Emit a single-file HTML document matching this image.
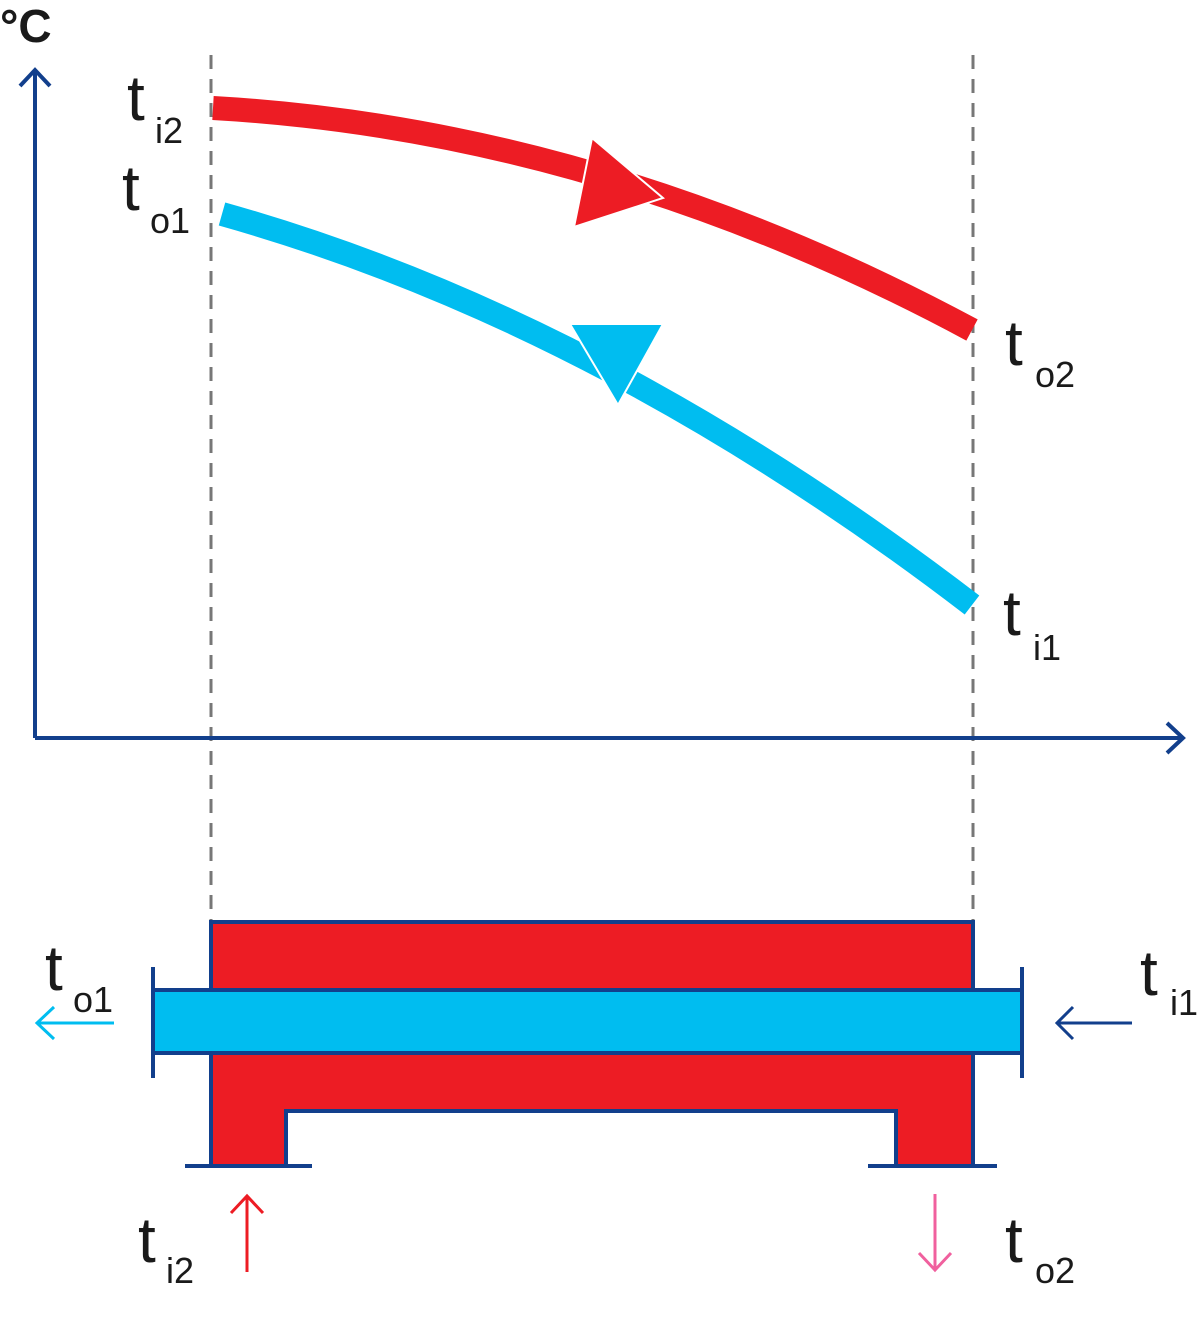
<!DOCTYPE html>
<html><head><style>body{margin:0;background:#fff}svg{display:block}text{font-family:"Liberation Sans",sans-serif;fill:#1a1a1a}</style></head>
<body>
<svg width="1200" height="1317" viewBox="0 0 1200 1317" xmlns="http://www.w3.org/2000/svg">
<g stroke="#777" stroke-width="3" stroke-dasharray="14,10">
<line x1="211" y1="55" x2="211" y2="922"/><line x1="973" y1="55" x2="973" y2="922"/></g>
<g stroke="#123f8c" stroke-width="4" fill="none">
<line x1="35" y1="70" x2="35" y2="738"/><polyline points="20,86 35,70 50,86"/>
<line x1="35" y1="738" x2="1183" y2="738"/><polyline points="1167,723 1183,738 1167,753"/></g>
<text x="0" y="42" font-size="46" font-weight="bold">°C</text>
<path d="M213,108 Q600,130 972,330" stroke="#ed1c24" stroke-width="24" fill="none"/>
<path d="M222,214 Q600,320 972,605" stroke="#00bdf0" stroke-width="24" fill="none"/>
<polygon points="592,138 574,227 663,198" fill="#ed1c24" stroke="#fff" stroke-width="2"/>
<polygon points="570,324 663,324 618,405" fill="#00bdf0" stroke="#fff" stroke-width="2"/>
<g font-size="64"><text x="127" y="120">t</text><text x="122" y="210">t</text><text x="1005" y="365">t</text><text x="1003" y="635">t</text>
<text x="45" y="990">t</text><text x="1140" y="995">t</text><text x="138" y="1262">t</text><text x="1005" y="1262">t</text></g>
<g font-size="36"><text x="155" y="143">i2</text><text x="150" y="233">o1</text><text x="1035" y="387">o2</text><text x="1033" y="660">i1</text>
<text x="73" y="1012">o1</text><text x="1170" y="1015">i1</text><text x="166" y="1283">i2</text><text x="1035" y="1283">o2</text></g>
<path d="M211,1166 V922 H973 V1166 H896 V1111 H286 V1166 Z" fill="#ed1c24" stroke="#123f8c" stroke-width="4"/>
<rect x="153" y="990" width="869" height="63" fill="#00bdf0" stroke="#123f8c" stroke-width="4"/>
<g stroke="#123f8c" stroke-width="4" fill="none">
<line x1="153" y1="967" x2="153" y2="1078"/><line x1="1022" y1="967" x2="1022" y2="1078"/>
<line x1="185" y1="1166" x2="213" y2="1166"/><line x1="284" y1="1166" x2="312" y2="1166"/>
<line x1="868" y1="1166" x2="898" y2="1166"/><line x1="971" y1="1166" x2="997" y2="1166"/></g>
<rect x="155" y="992" width="865" height="59" fill="#00bdf0"/>
<g fill="none" stroke-width="3">
<path d="M114,1023 H37 M54,1007 L37,1023 L54,1039" stroke="#00bdf0"/>
<path d="M1132,1023 H1057 M1073,1007 L1057,1023 L1073,1039" stroke="#123f8c"/>
<path d="M247,1272 V1196 M231,1213 L247,1196 L263,1213" stroke="#ed1c24"/>
<path d="M935,1194 V1270 M919,1253 L935,1270 L951,1253" stroke="#f0609e"/></g>
</svg>
</body></html>
